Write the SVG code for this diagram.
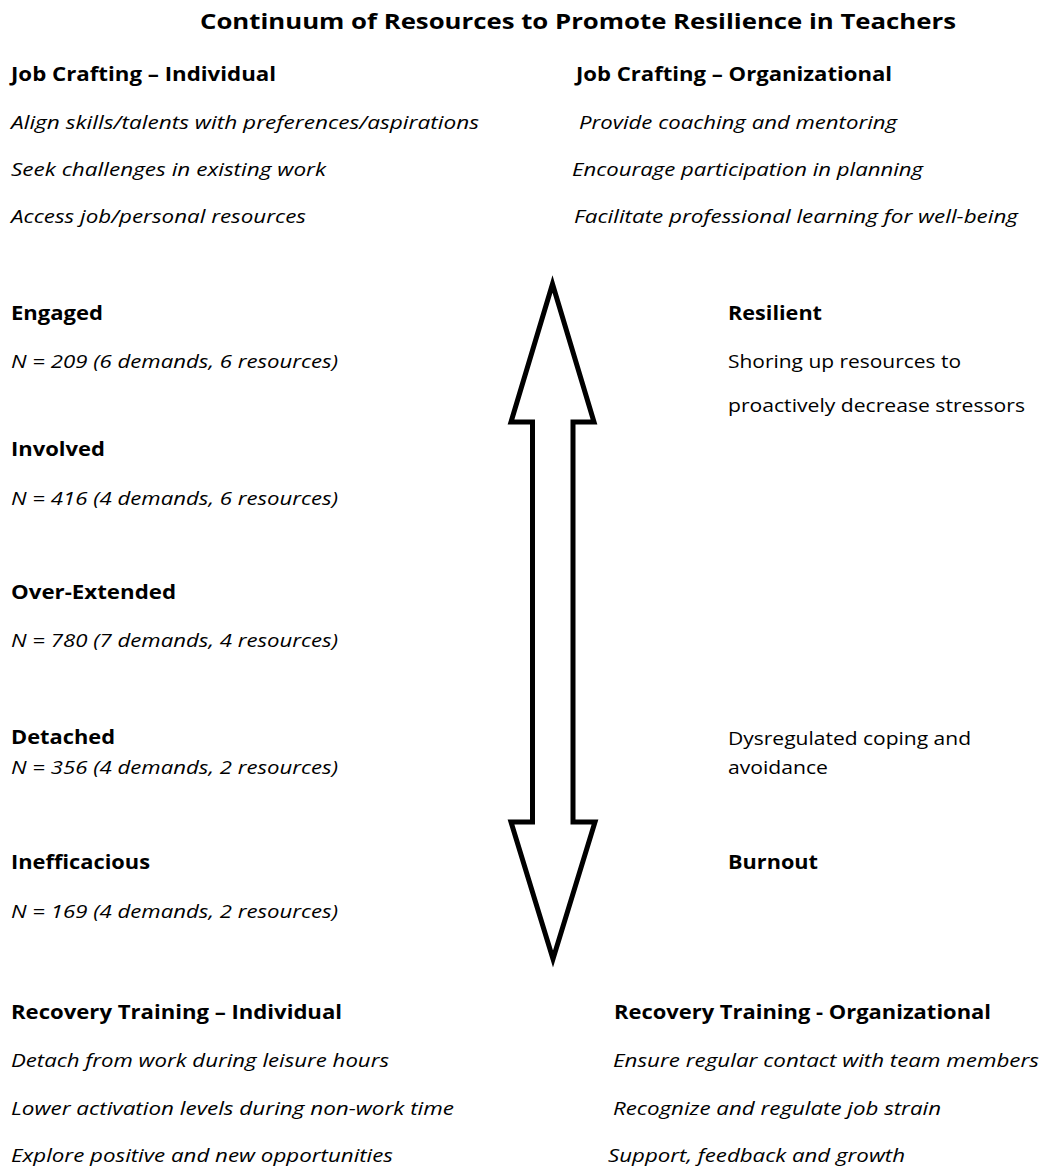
<svg xmlns="http://www.w3.org/2000/svg" width="1042" height="1166" viewBox="0 0 1042 1166">
<style>
text{font-family:"Open Sans","Noto Sans","Liberation Sans",sans-serif;fill:#000}
.t{font-size:21px;font-weight:bold}
.h{font-size:19.5px;font-weight:bold}
.i{font-size:17.5px;font-style:italic}
.r{font-size:18px}
.arrow{fill:#fff;stroke:#000;stroke-width:5;stroke-linejoin:miter;stroke-miterlimit:10}
</style>
<rect width="1042" height="1166" fill="#fff"/>
<g id="title"><text class="t" x="200" y="29" textLength="756" lengthAdjust="spacingAndGlyphs">Continuum of Resources to Promote Resilience in Teachers</text></g>

<g id="job-crafting-individual">
<text class="h" x="11" y="81" textLength="265" lengthAdjust="spacingAndGlyphs">Job Crafting – Individual</text>
<text class="i" x="11" y="129" textLength="468" lengthAdjust="spacingAndGlyphs">Align skills/talents with preferences/aspirations</text>
<text class="i" x="11" y="176" textLength="315" lengthAdjust="spacingAndGlyphs">Seek challenges in existing work</text>
<text class="i" x="11" y="223" textLength="295" lengthAdjust="spacingAndGlyphs">Access job/personal resources</text>
</g>

<g id="job-crafting-organizational">
<text class="h" x="576" y="81" textLength="316" lengthAdjust="spacingAndGlyphs">Job Crafting – Organizational</text>
<text class="i" x="579" y="129" textLength="318" lengthAdjust="spacingAndGlyphs">Provide coaching and mentoring</text>
<text class="i" x="572" y="176" textLength="351" lengthAdjust="spacingAndGlyphs">Encourage participation in planning</text>
<text class="i" x="574" y="223" textLength="444" lengthAdjust="spacingAndGlyphs">Facilitate professional learning for well-being</text>
</g>

<g id="engaged">
<text class="h" x="11" y="320" textLength="92" lengthAdjust="spacingAndGlyphs">Engaged</text>
<text class="i" x="11" y="368" textLength="327" lengthAdjust="spacingAndGlyphs">N = 209 (6 demands, 6 resources)</text>
</g>

<g id="resilient">
<text class="h" x="728" y="320" textLength="94" lengthAdjust="spacingAndGlyphs">Resilient</text>
<text class="r" x="728" y="368" textLength="233" lengthAdjust="spacingAndGlyphs">Shoring up resources to</text>
<text class="r" x="728" y="412" textLength="297" lengthAdjust="spacingAndGlyphs">proactively decrease stressors</text>
</g>

<g id="involved">
<text class="h" x="11" y="456" textLength="94" lengthAdjust="spacingAndGlyphs">Involved</text>
<text class="i" x="11" y="505" textLength="327" lengthAdjust="spacingAndGlyphs">N = 416 (4 demands, 6 resources)</text>
</g>

<g id="over-extended">
<text class="h" x="11" y="599" textLength="165" lengthAdjust="spacingAndGlyphs">Over-Extended</text>
<text class="i" x="11" y="647" textLength="327" lengthAdjust="spacingAndGlyphs">N = 780 (7 demands, 4 resources)</text>
</g>

<g id="detached">
<text class="h" x="11" y="744" textLength="104" lengthAdjust="spacingAndGlyphs">Detached</text>
<text class="i" x="11" y="774" textLength="327" lengthAdjust="spacingAndGlyphs">N = 356 (4 demands, 2 resources)</text>
</g>

<g id="dysregulated">
<text class="r" x="728" y="745" textLength="243" lengthAdjust="spacingAndGlyphs">Dysregulated coping and</text>
<text class="r" x="728" y="774" textLength="100" lengthAdjust="spacingAndGlyphs">avoidance</text>
</g>

<g id="inefficacious">
<text class="h" x="11" y="869" textLength="139" lengthAdjust="spacingAndGlyphs">Inefficacious</text>
<text class="i" x="11" y="918" textLength="327" lengthAdjust="spacingAndGlyphs">N = 169 (4 demands, 2 resources)</text>
</g>

<g id="burnout">
<text class="h" x="728" y="869" textLength="90" lengthAdjust="spacingAndGlyphs">Burnout</text>
</g>

<g id="recovery-individual">
<text class="h" x="11" y="1019" textLength="331" lengthAdjust="spacingAndGlyphs">Recovery Training – Individual</text>
<text class="i" x="11" y="1067" textLength="378" lengthAdjust="spacingAndGlyphs">Detach from work during leisure hours</text>
<text class="i" x="11" y="1115" textLength="443" lengthAdjust="spacingAndGlyphs">Lower activation levels during non-work time</text>
<text class="i" x="11" y="1162" textLength="382" lengthAdjust="spacingAndGlyphs">Explore positive and new opportunities</text>
</g>

<g id="recovery-organizational">
<text class="h" x="614" y="1019" textLength="377" lengthAdjust="spacingAndGlyphs">Recovery Training - Organizational</text>
<text class="i" x="613" y="1067" textLength="426" lengthAdjust="spacingAndGlyphs">Ensure regular contact with team members</text>
<text class="i" x="613" y="1115" textLength="328" lengthAdjust="spacingAndGlyphs">Recognize and regulate job strain</text>
<text class="i" x="608" y="1162" textLength="297" lengthAdjust="spacingAndGlyphs">Support, feedback and growth</text>
</g>

<g id="connectors">
<polygon class="arrow" points="552.5,284 594,422 573,422 573,822 595,822 553,959 511,822 532.5,822 532.5,422 511,422"/>
</g>
</svg>
